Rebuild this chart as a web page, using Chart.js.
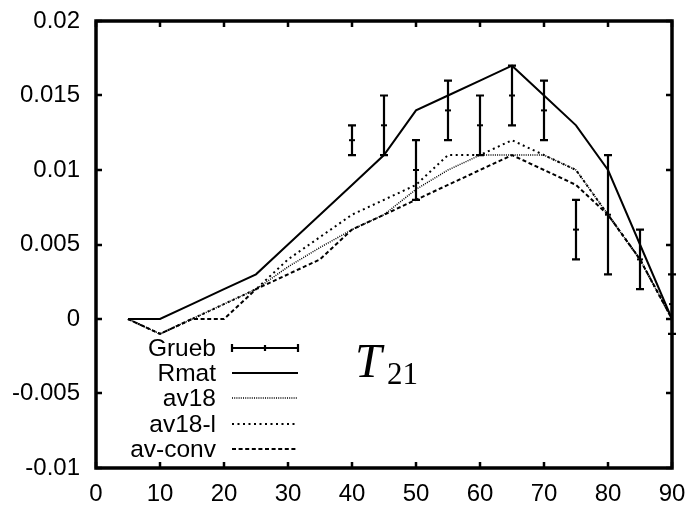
<!DOCTYPE html>
<html>
<head>
<meta charset="utf-8">
<script src="https://cdn.jsdelivr.net/npm/chart.js@4/dist/chart.umd.min.js"></script>
<style>
  html, body { margin: 0; padding: 0; background: #fff; }
  #wrap { width: 691px; height: 505px; }
</style>
</head>
<body>
<div id="wrap"><canvas id="t21-chart"></canvas></div>
<script>
const angles = [5, 10, 15, 20, 25, 30, 35, 40, 45, 50, 55, 60, 65, 70, 75, 80, 85, 90];
const rmat   = [0, 0, 0.001, 0.002, 0.003, 0.005, 0.007, 0.009, 0.011, 0.014, 0.015, 0.016, 0.017, 0.015, 0.013, 0.010, 0.005, 0];
const av18   = [0, -0.001, 0, 0.001, 0.002, 0.0035, 0.0048, 0.006, 0.007, 0.0087, 0.010, 0.011, 0.011, 0.011, 0.010, 0.007, 0.004, 0];
const av18l  = [0, -0.001, 0, 0.001, 0.002, 0.004, 0.0055, 0.007, 0.008, 0.009, 0.011, 0.011, 0.012, 0.011, 0.010, 0.007, 0.004, 0];
const avConv = [0, -0.001, 0, 0, 0.002, 0.003, 0.004, 0.006, 0.007, 0.008, 0.009, 0.010, 0.011, 0.010, 0.009, 0.007, 0.004, 0];

const gruebX   = [40, 45, 50, 55, 60, 65, 70, 75, 80, 85, 90];
const gruebY   = [0.012, 0.013, 0.010, 0.014, 0.013, 0.015, 0.014, 0.006, 0.007, 0.004, 0.001];
const gruebErr = [0.001, 0.002, 0.002, 0.002, 0.002, 0.002, 0.002, 0.002, 0.004, 0.002, 0.002];

const xTickLabels = ['0', '10', '20', '30', '40', '50', '60', '70', '80', '90'];
const yTickLabels = ['-0.01', '-0.005', '0', '0.005', '0.01', '0.015', '0.02'];

const font = "'Liberation Sans', Arial, sans-serif";

const pts = (xs, ys) => xs.map((x, i) => ({ x: x, y: ys[i] }));

// no label overhang, the layout padding alone places the frame
const noOverhang = s => {
  s.paddingTop = 0; s.paddingBottom = 0;
  s.paddingLeft = 0; s.paddingRight = 0;
};

// frame + inward ticks on all four sides, gnuplot style
const framePlugin = {
  id: 'frame',
  afterDraw(chart) {
    const { ctx, chartArea: a, scales } = chart;
    ctx.save();
    ctx.strokeStyle = '#000';
    ctx.lineWidth = 2.5;
    const tl = 6;
    ctx.beginPath();
    scales.x.ticks.forEach(t => {
      const px = Math.round(scales.x.getPixelForValue(t.value));
      ctx.moveTo(px, a.bottom); ctx.lineTo(px, a.bottom - tl);
      ctx.moveTo(px, a.top); ctx.lineTo(px, a.top + tl);
    });
    scales.y.ticks.forEach(t => {
      const py = Math.round(scales.y.getPixelForValue(t.value));
      ctx.moveTo(a.left, py); ctx.lineTo(a.left + tl, py);
      ctx.moveTo(a.right, py); ctx.lineTo(a.right - tl, py);
    });
    ctx.stroke();
    ctx.lineWidth = 3.5;
    ctx.strokeRect(a.left, a.top, a.right - a.left, a.bottom - a.top);
    ctx.restore();
  }
};

// vertical error bars for the Grueb points
const errorBarPlugin = {
  id: 'errorBars',
  afterDatasetsDraw(chart) {
    const { ctx, scales } = chart;
    ctx.save();
    ctx.strokeStyle = '#000';
    ctx.lineWidth = 2.2;
    ctx.beginPath();
    gruebX.forEach((x, i) => {
      const px = scales.x.getPixelForValue(x);
      const top = scales.y.getPixelForValue(gruebY[i] + gruebErr[i]);
      const bot = scales.y.getPixelForValue(gruebY[i] - gruebErr[i]);
      ctx.moveTo(px, top); ctx.lineTo(px, bot);
      ctx.moveTo(px - 4, top); ctx.lineTo(px + 4, top);
      ctx.moveTo(px - 4, bot); ctx.lineTo(px + 4, bot);
    });
    ctx.stroke();
    ctx.restore();
  }
};

// key in the lower left, text right-aligned with line samples to its right
const keyPlugin = {
  id: 'key',
  afterDraw(chart) {
    const { ctx } = chart;
    const textRight = 216, x0 = 232, x1 = 298, y0 = 348, dy = 25.2;
    ctx.save();
    ctx.font = '24.5px ' + font;
    ctx.textAlign = 'right';
    ctx.textBaseline = 'middle';
    ctx.fillStyle = '#000';
    chart.data.datasets.forEach((ds, i) => {
      const y = Math.round(y0 + i * dy);
      ctx.fillText(ds.label, textRight, y + 1);
      ctx.strokeStyle = '#000';
      ctx.lineWidth = ds.keyWidth || ds.borderWidth;
      ctx.setLineDash(ds.borderDash || []);
      ctx.beginPath();
      ctx.moveTo(x0, y); ctx.lineTo(x1, y);
      ctx.stroke();
      ctx.setLineDash([]);
      if (ds.label === 'Grueb') {
        ctx.beginPath();
        ctx.moveTo(x0, y - 4); ctx.lineTo(x0, y + 4);
        ctx.moveTo(x1, y - 4); ctx.lineTo(x1, y + 4);
        ctx.moveTo((x0 + x1) / 2, y - 3); ctx.lineTo((x0 + x1) / 2, y + 3);
        ctx.stroke();
      }
    });
    // T_21 label
    ctx.textAlign = 'left';
    ctx.textBaseline = 'alphabetic';
    ctx.font = "italic 48px 'Liberation Serif', 'DejaVu Serif', serif";
    ctx.fillText('T', 355, 377);
    ctx.font = "31px 'Liberation Serif', 'DejaVu Serif', serif";
    ctx.fillText('21', 387, 384);
    ctx.restore();
  }
};

const chart = new Chart(document.getElementById('t21-chart'), {
  type: 'line',
  data: {
    datasets: [
      {
        label: 'Grueb',
        data: pts(gruebX, gruebY),
        showLine: false,
        pointStyle: 'line',
        pointRadius: 3,
        pointBorderWidth: 2,
        borderColor: '#000',
        borderWidth: 2.2,
        keyWidth: 2.2
      },
      {
        label: 'Rmat',
        data: pts(angles, rmat),
        borderColor: '#000',
        borderWidth: 2,
        pointRadius: 0
      },
      {
        label: 'av18',
        data: pts(angles, av18),
        borderColor: '#000',
        borderWidth: 1.5,
        borderDash: [1, 1.2],
        pointRadius: 0
      },
      {
        label: 'av18-l',
        data: pts(angles, av18l),
        borderColor: '#000',
        borderWidth: 2,
        borderDash: [2, 3.5],
        pointRadius: 0
      },
      {
        label: 'av-conv',
        data: pts(angles, avConv),
        borderColor: '#000',
        borderWidth: 2,
        borderDash: [4, 2.6],
        pointRadius: 0
      }
    ]
  },
  options: {
    responsive: true,
    maintainAspectRatio: false,
    animation: false,
    layout: { padding: { top: 21, right: 19, left: 0, bottom: 0 } },
    scales: {
      x: {
        type: 'linear',
        min: 0,
        max: 90,
        afterFit: s => { s.height = 37; noOverhang(s); },
        ticks: {
          stepSize: 10,
          color: '#000',
          padding: 12,
          maxRotation: 0,
          font: { family: font, size: 24 },
          callback: (v, i) => xTickLabels[i]
        },
        grid: { display: false, drawTicks: false },
        border: { display: false }
      },
      y: {
        type: 'linear',
        min: -0.01,
        max: 0.02,
        afterFit: s => { s.width = 96; noOverhang(s); },
        ticks: {
          stepSize: 0.005,
          color: '#000',
          padding: 16,
          font: { family: font, size: 24 },
          callback: (v, i) => yTickLabels[i]
        },
        grid: { display: false, drawTicks: false },
        border: { display: false }
      }
    },
    plugins: {
      legend: { display: false },
      tooltip: { enabled: false }
    }
  },
  plugins: [framePlugin, errorBarPlugin, keyPlugin]
});
</script>
</body>
</html>
